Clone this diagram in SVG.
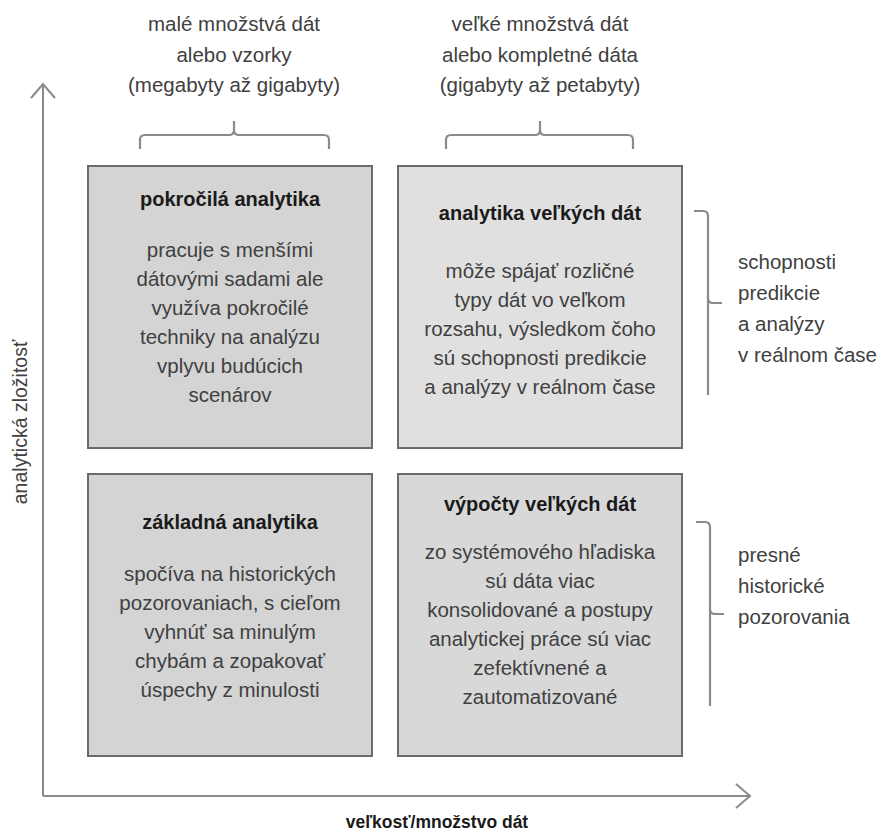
<svg xmlns="http://www.w3.org/2000/svg" width="883" height="833" viewBox="0 0 883 833">
<style>
text{font-family:"Liberation Sans",Arial,sans-serif;}
.t{font-size:20px;font-weight:bold;fill:#1a1a1a;text-anchor:middle;}
.b{font-size:20.5px;fill:#404040;text-anchor:middle;}
.l{font-size:20.5px;fill:#404040;}
.box{stroke:#6b6b6b;stroke-width:2;}
.ax{stroke:#8a8a8a;stroke-width:2;fill:none;}
.br{stroke:#8a8a8a;stroke-width:2.2;fill:none;}
</style>
<rect width="883" height="833" fill="#ffffff"/>
<g id="connectors">
<path class="ax" d="M43,796 V84"/>
<path class="ax" d="M31,98 L43,84 L55,98"/>
<path class="ax" d="M43,796 H750"/>
<path class="ax" d="M736,784 L750,796 L736,808"/>
</g>
<g id="brackets">
<path class="br" d="M140,149 V140 Q140,135 145,135 H229 Q234,135 234,130 V121 M234,130 Q234,135 239,135 H324 Q329,135 329,140 V149"/>
<path class="br" d="M446,149 V140 Q446,135 451,135 H535 Q540,135 540,130 V121 M540,130 Q540,135 545,135 H628 Q633,135 633,140 V149"/>
<path class="br" d="M694,211 H703 Q708,211 708,216 V298 Q708,303 713,303 H722 M708,298 V395"/>
<path class="br" d="M696,522 H705 Q710,522 710,527 V609 Q710,614 715,614 H724 M710,609 V706"/>
</g>
<g id="axis-labels">
<text class="l" transform="translate(27,422) rotate(-90)" style="text-anchor:middle;font-size:19.5px">analytická zložitosť</text>
<text class="t" x="437" y="828" style="font-size:17.5px">veľkosť/množstvo dát</text>
</g>
<g id="top-labels">
<text class="b" x="234" y="31">malé množstvá dát</text>
<text class="b" x="234" y="62">alebo vzorky</text>
<text class="b" x="234" y="92">(megabyty až gigabyty)</text>
<text class="b" x="540" y="31">veľké množstvá dát</text>
<text class="b" x="540" y="62">alebo kompletné dáta</text>
<text class="b" x="540" y="92">(gigabyty až petabyty)</text>
</g>
<g id="side-labels">
<text class="l" x="738" y="269">schopnosti</text>
<text class="l" x="738" y="300">predikcie</text>
<text class="l" x="738" y="331">a analýzy</text>
<text class="l" x="738" y="362">v reálnom čase</text>
<text class="l" x="738" y="562">presné</text>
<text class="l" x="738" y="593">historické</text>
<text class="l" x="738" y="624">pozorovania</text>
</g>
<g id="node-advanced">
<rect class="box" x="88" y="166" width="284" height="282" fill="#d4d4d4"/>
<text class="t" x="230" y="206">pokročilá analytika</text>
<text class="b" x="230" y="257">pracuje s menšími</text>
<text class="b" x="230" y="286">dátovými sadami ale</text>
<text class="b" x="230" y="315">využíva pokročilé</text>
<text class="b" x="230" y="344">techniky na analýzu</text>
<text class="b" x="230" y="373">vplyvu budúcich</text>
<text class="b" x="230" y="402">scenárov</text>
</g>
<g id="node-bigdata-analytics">
<rect class="box" x="398" y="166" width="284" height="282" fill="#e0e0e0"/>
<text class="t" x="540" y="220">analytika veľkých dát</text>
<text class="b" x="540" y="278">môže spájať rozličné</text>
<text class="b" x="540" y="307">typy dát vo veľkom</text>
<text class="b" x="540" y="336">rozsahu, výsledkom čoho</text>
<text class="b" x="540" y="365">sú schopnosti predikcie</text>
<text class="b" x="540" y="394">a analýzy v reálnom čase</text>
</g>
<g id="node-basic">
<rect class="box" x="88" y="474" width="284" height="282" fill="#d4d4d4"/>
<text class="t" x="230" y="529">základná analytika</text>
<text class="b" x="230" y="581">spočíva na historických</text>
<text class="b" x="230" y="610">pozorovaniach, s cieľom</text>
<text class="b" x="230" y="639">vyhnúť sa minulým</text>
<text class="b" x="230" y="668">chybám a zopakovať</text>
<text class="b" x="230" y="697">úspechy z minulosti</text>
</g>
<g id="node-bigdata-computing">
<rect class="box" x="398" y="474" width="284" height="282" fill="#d8d8d8"/>
<text class="t" x="540" y="511">výpočty veľkých dát</text>
<text class="b" x="540" y="559">zo systémového hľadiska</text>
<text class="b" x="540" y="588">sú dáta viac</text>
<text class="b" x="540" y="617">konsolidované a postupy</text>
<text class="b" x="540" y="646">analytickej práce sú viac</text>
<text class="b" x="540" y="675">zefektívnené a</text>
<text class="b" x="540" y="704">zautomatizované</text>
</g>
</svg>
